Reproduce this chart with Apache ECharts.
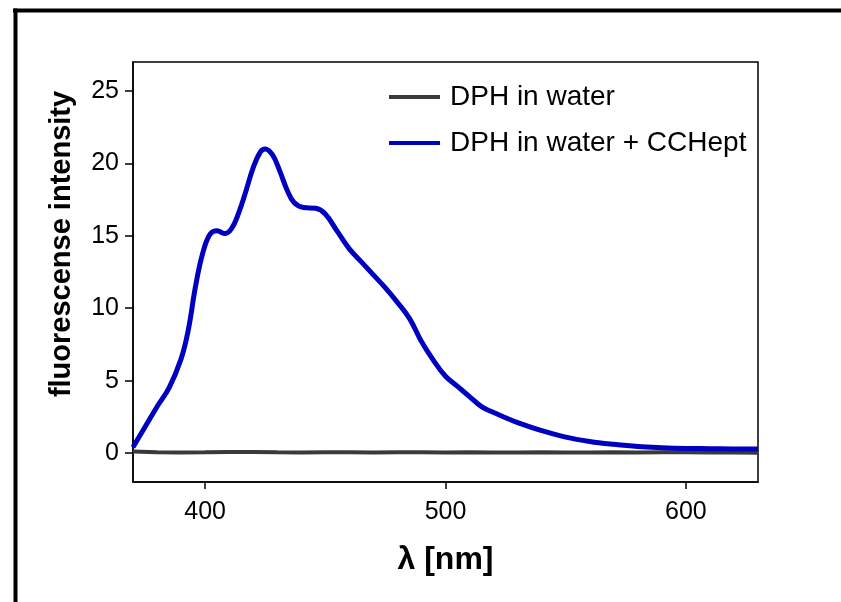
<!DOCTYPE html>
<html>
<head>
<meta charset="utf-8">
<script src="https://cdn.jsdelivr.net/npm/echarts@6/dist/echarts.min.js"></script>
<style>
html,body{margin:0;padding:0;background:#fff;}
#chart{width:841px;height:602px;}
</style>
</head>
<body>
<div id="chart"></div>
<script>
// Wavelength (nm) and intensities
const cchWavelength = [370,375,380,385,390,393,396,399,402,405,408,411,414,417,420,423,425,428,431,434,437,441,446,450,455,460,465,470,475,480,485,490,495,500,505,510,515,520,530,540,550,560,570,580,590,600,610,620,630];
const cchIntensity  = [0.4,1.8,3.2,4.5,6.5,8.5,11.5,13.8,15.1,15.35,15.15,15.5,16.6,18.1,19.7,20.8,21.0,20.6,19.5,18.2,17.3,16.95,16.9,16.5,15.3,14.1,13.2,12.3,11.4,10.4,9.3,7.7,6.4,5.3,4.6,3.9,3.2,2.8,2.1,1.55,1.1,0.8,0.6,0.45,0.37,0.32,0.3,0.28,0.28];
const waterWavelength = [370,380,390,400,410,420,430,440,450,460,470,480,490,500,510,520,530,540,550,560,570,580,590,600,610,620,630];
const waterIntensity  = [0.1,0.06,0.04,0.05,0.07,0.08,0.05,0.04,0.06,0.05,0.03,0.05,0.06,0.04,0.05,0.03,0.04,0.05,0.03,0.04,0.05,0.04,0.06,0.05,0.04,0.03,0.02];
const xTicks = [400,500,600];
const yTicks = [0,5,10,15,20,25];
const seriesNames = ['DPH in water','DPH in water + CCHept'];
const xTitle = 'λ [nm]';
const yTitle = 'fluorescense intensity';

const pair = (xs, ys) => xs.map((x, i) => [x, ys[i]]);
const font = 'Arial, "Liberation Sans", sans-serif';

const chart = echarts.init(document.getElementById('chart'), null, {renderer:'canvas'});
chart.setOption({
  animation: false,
  backgroundColor: '#fff',
  grid: {left: 133, right: 83, top: 62, bottom: 120, show: true, borderColor: '#000', borderWidth: 1.5, backgroundColor: 'transparent'},
  legend: {
    orient: 'vertical', left: 384, top: 78, itemGap: 18,
    itemWidth: 51, itemHeight: 28,
    icon: 'path://M0,0 L51,0 L51,4 L0,4 Z',
    textStyle: {fontFamily: font, fontSize: 28, color: '#000', padding: [0,0,0,5]},
    data: [
      {name: seriesNames[0], itemStyle: {color: '#3a3a3a'}},
      {name: seriesNames[1], itemStyle: {color: '#0000c0'}}
    ]
  },
  xAxis: {
    type: 'value', min: 370, max: 630,
    name: xTitle, nameLocation: 'middle', nameGap: 62,
    nameTextStyle: {fontFamily: font, fontSize: 32, fontWeight: 'bold', color: '#000'},
    axisLine: {show: true, onZero: false, lineStyle: {color: '#000', width: 1.5}},
    axisTick: {show: true, length: 7, lineStyle: {color: '#000', width: 1.5}, customValues: xTicks},
    axisLabel: {fontFamily: font, fontSize: 25, color: '#000', margin: 18, customValues: xTicks},
    splitLine: {show: false}
  },
  yAxis: {
    type: 'value', min: -2, max: 27,
    axisLine: {show: true, onZero: false, lineStyle: {color: '#000', width: 1.5}},
    axisTick: {show: true, length: 8, lineStyle: {color: '#000', width: 1.5}, customValues: yTicks},
    axisLabel: {fontFamily: font, fontSize: 25, color: '#000', margin: 14, customValues: yTicks},
    splitLine: {show: false}
  },
  series: [
    {name: seriesNames[0], type: 'line', data: pair(waterWavelength, waterIntensity), showSymbol: false, symbol: 'none', smooth: false,
     lineStyle: {color: '#3a3a3a', width: 4}, itemStyle: {color: '#3a3a3a'}, z: 2},
    {name: seriesNames[1], type: 'line', data: pair(cchWavelength, cchIntensity), showSymbol: false, symbol: 'none', smooth: 0.4,
     lineStyle: {color: '#0000c0', width: 5}, itemStyle: {color: '#0000c0'}, z: 3}
  ],
  graphic: [
    {type: 'line', shape: {x1: 13, y1: 10.5, x2: 841, y2: 10.5}, style: {stroke: '#000', lineWidth: 4}},
    {type: 'line', shape: {x1: 15.5, y1: 8.5, x2: 15.5, y2: 602}, style: {stroke: '#000', lineWidth: 4}},
    {type: 'text', x: 62, y: 244, rotation: Math.PI / 2,
     style: {text: yTitle, fontFamily: font, fontSize: 29, fontWeight: 'bold', fill: '#000', align: 'center', verticalAlign: 'middle'}}
  ]
});
</script>
</body>
</html>
